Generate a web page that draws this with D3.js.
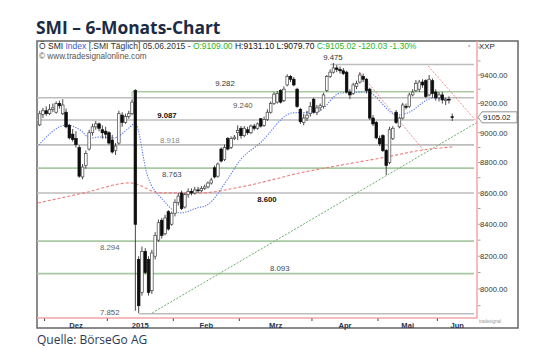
<!DOCTYPE html>
<html>
<head>
<meta charset="utf-8">
<script src="https://cdn.jsdelivr.net/npm/d3@7"></script>
<style>
html, body { margin: 0; padding: 0; background: #fff; }
svg { display: block; }
</style>
</head>
<body>
<div id="chart"></div>
<script>
// SMI daily candles 27.11.2014 - 05.06.2015
const openVals = [
  9053, 9125, 9150, 9130, 9160, 9140, 9200, 9130, 9140, 9050,
  8990, 8960, 8900, 8705, 8780, 8890, 9000, 9040, 9060, 9020,
  9010, 9000, 8950, 8880, 8930, 9120, 9070, 9110, 9130, 9290,
  8180, 7980, 8230, 8180, 7990, 8200, 8300, 8425, 8340, 8480,
  8400, 8470, 8540, 8600, 8510, 8590, 8610, 8600, 8620, 8615,
  8630, 8640, 8665, 8765, 8710, 8890, 8820, 8960, 8900, 8960,
  9000, 9030, 8980, 9020, 9000, 9045, 9030, 9095, 9050, 9090,
  9140, 9200, 9210, 9290, 9220, 9330, 9390, 9370, 9300, 9160,
  9070, 9100, 9130, 9230, 9140, 9170, 9180, 9290, 9390, 9420,
  9450, 9440, 9430, 9420, 9280, 9270, 9320, 9350, 9390, 9370,
  9300, 9100, 9070, 8960, 8980, 8880, 8800, 8960, 9140, 9040,
  9100, 9180, 9180, 9260, 9290, 9300, 9350, 9360, 9260, 9360,
  9280, 9240, 9260, 9220, 9230, 9109
];
const highVals = [
  9150, 9170, 9180, 9195, 9200, 9215, 9220, 9230, 9165, 9060,
  9025, 9010, 8915, 8790, 8880, 9020, 9060, 9080, 9070, 9050,
  9040, 9010, 8985, 8930, 9150, 9140, 9130, 9150, 9230, 9300,
  8200, 8260, 8250, 8200, 8240, 8350, 8430, 8440, 8460, 8490,
  8480, 8560, 8600, 8615, 8600, 8630, 8630, 8640, 8640, 8645,
  8655, 8675, 8700, 8780, 8800, 8900, 8920, 8970, 8975, 8985,
  9050, 9045, 9045, 9040, 9055, 9060, 9070, 9100, 9110, 9160,
  9215, 9280, 9285, 9300, 9320, 9405, 9400, 9385, 9310, 9170,
  9130, 9150, 9210, 9240, 9190, 9200, 9275, 9400, 9440, 9485,
  9470, 9460, 9450, 9430, 9300, 9345, 9360, 9420, 9410, 9380,
  9310, 9120, 9080, 8980, 8990, 8890, 9040, 9045, 9155, 9110,
  9205, 9200, 9275, 9300, 9365, 9365, 9370, 9370, 9400, 9375,
  9300, 9280, 9280, 9240, 9250, 9131.1
];
const lowVals = [
  9045, 9100, 9115, 9120, 9140, 9130, 9165, 9120, 9030, 8955,
  8940, 8900, 8700, 8690, 8760, 8880, 8980, 9020, 9010, 8960,
  8960, 8920, 8860, 8850, 8920, 9040, 9060, 9095, 9120, 7870,
  7857, 7960, 8090, 7960, 7970, 8180, 8290, 8310, 8330, 8360,
  8390, 8450, 8520, 8490, 8500, 8570, 8585, 8590, 8600, 8605,
  8620, 8630, 8655, 8695, 8700, 8800, 8810, 8880, 8890, 8950,
  8950, 8960, 8970, 8985, 8990, 9015, 9020, 9035, 9040, 9080,
  9130, 9190, 9200, 9200, 9210, 9320, 9350, 9320, 9170, 9060,
  9050, 9080, 9110, 9130, 9120, 9150, 9170, 9280, 9380, 9410,
  9420, 9410, 9400, 9270, 9230, 9260, 9300, 9340, 9350, 9270,
  9087, 9045, 8955, 8910, 8870, 8718, 8790, 8950, 9060, 9030,
  9090, 9160, 9170, 9250, 9280, 9280, 9310, 9238, 9250, 9240,
  9220, 9215, 9200, 9190, 9200, 9079.7
];
const closeVals = [
  9130, 9150, 9130, 9160, 9170, 9200, 9185, 9190, 9040, 8965,
  8955, 8920, 8710, 8770, 8860, 9000, 9040, 9060, 9030, 9000,
  8990, 8930, 8870, 8910, 9130, 9070, 9110, 9130, 9210, 8400,
  7900, 8230, 8100, 7980, 8220, 8330, 8410, 8330, 8440, 8370,
  8470, 8540, 8580, 8500, 8590, 8610, 8600, 8620, 8615, 8630,
  8640, 8665, 8685, 8705, 8790, 8810, 8900, 8890, 8960, 8970,
  9015, 8980, 9030, 9000, 9045, 9030, 9060, 9045, 9090, 9140,
  9200, 9265, 9270, 9210, 9300, 9390, 9370, 9330, 9180, 9075,
  9100, 9120, 9180, 9140, 9170, 9185, 9260, 9390, 9420, 9450,
  9440, 9430, 9410, 9280, 9260, 9330, 9340, 9400, 9370, 9290,
  9100, 9060, 8965, 8925, 8880, 8780, 9020, 9030, 9070, 9100,
  9190, 9175, 9260, 9280, 9340, 9350, 9330, 9250, 9370, 9270,
  9240, 9260, 9225, 9230, 9225.05, 9105.02
];

// month labels and the index of the first trading day of each month
const monthLabels = ["Dez", "2015", "Feb", "Mrz", "Apr", "Mai", "Jun"];
const monthStart = [2, 21, 41, 61, 83, 103, 121];

// right axis
const priceTicks = [8000, 8200, 8400, 8600, 8800, 9000, 9200, 9400];
const lastPrice = 9105.02;

// support / resistance levels and the day each line starts
const levelValues = [9475, 9282, 9240, 9087, 8918, 8763, 8600, 8294, 8093, 7852];
const levelFrom = [88, 28, 0, 0, 0, 0, 0, 0, 0, 30];

// moving averages (day index, value)
const blueMaDay = [-0.8, 8.3, 12.3, 15.3, 18.3, 22.3, 27.4, 28.9, 32.6, 37.4, 42.6, 47.7, 50.8, 56.8, 60.8, 66.8, 76.5, 84.1, 91.1, 99.2, 108.3, 111.4, 119.2, 124.4];
const blueMaVal = [8904, 9053, 9018, 8964, 8971, 8964, 9039, 9066, 8718, 8555, 8472, 8504, 8523, 8685, 8817, 8930, 9135, 9142, 9273, 9280, 9121, 9135, 9238, 9224];
const redMaDay = [-0.5, 13.5, 27.4, 36.5, 48.6, 60.8, 78.9, 105.3, 116.2, 125];
const redMaVal = [8536, 8601, 8666, 8601, 8601, 8639, 8731, 8838, 8884, 8904];

// trend lines, [day index, value]
const greenTrend = [[34.1, 7857], [132.5, 9070]];
const redTrendA = [[97.1, 9414], [116.2, 8884]];
const redTrendB = [[117.7, 9464], [132.5, 9073]];

const width = 540, height = 350;
const plot = { left: 37, right: 477, top: 41, bottom: 318 };

const svg = d3.select("#chart").append("svg")
  .attr("width", width)
  .attr("height", height)
  .style("font-family", "'Liberation Sans', Arial, sans-serif");

const x = d3.scaleLinear().domain([-0.8, 132.5]).range([plot.left, plot.right]);
const y = d3.scaleLog().domain([7827, 9644]).range([plot.bottom, plot.top]);

// title and source
svg.append("text")
  .attr("x", 36).attr("y", 34)
  .attr("font-family", "'Open Sans', sans-serif")
  .attr("font-weight", 700).attr("font-size", 17.4)
  .attr("fill", "#1c2b45")
  .text("SMI – 6-Monats-Chart");

svg.append("text")
  .attr("x", 37).attr("y", 344)
  .attr("font-family", "'Open Sans', sans-serif")
  .attr("font-size", 12).attr("fill", "#2b3a55")
  .text("Quelle: BörseGo AG");

// outer frame
svg.append("rect")
  .attr("x", 37).attr("y", 41).attr("width", 481).attr("height", 287)
  .attr("fill", "#fff").attr("stroke", "#666").attr("stroke-width", 1.5);

svg.append("defs").append("clipPath").attr("id", "plotclip")
  .append("rect")
  .attr("x", plot.left).attr("y", plot.top)
  .attr("width", plot.right - plot.left).attr("height", plot.bottom - plot.top);

const g = svg.append("g").attr("clip-path", "url(#plotclip)");

// level lines
const greenLevels = [9282, 8763, 8294, 8093];
g.selectAll(".level")
  .data(levelValues)
  .enter().append("line")
  .attr("class", "level")
  .attr("x1", (d, i) => levelFrom[i] === 0 ? plot.left : x(levelFrom[i]))
  .attr("x2", plot.right - 3)
  .attr("y1", d => y(d)).attr("y2", d => y(d))
  .attr("stroke", d => greenLevels.includes(d) ? "#a9c9a2" : "#bdbdbd")
  .attr("stroke-width", 1.6);

// small bracket at the start of the 9.282 line
g.append("line")
  .attr("x1", x(28)).attr("x2", x(28))
  .attr("y1", y(9282)).attr("y2", y(9282) + 5)
  .attr("stroke", "#a9c9a2").attr("stroke-width", 1.2);

// level labels: day index position, vertical offset, colour, weight
const labelLayout = [
  [85.9, -4, "#333", 400],
  [53.2, -6, "#333", 400],
  [58.6, 10.5, "#555", 400],
  [35.6, -1.5, "#111", 700],
  [36.5, -2, "#888", 400],
  [37.1, 8.5, "#3a4560", 400],
  [65.9, 8.5, "#111", 700],
  [18.3, 8.5, "#666", 400],
  [69.8, -3, "#3a4560", 400],
  [18.3, 1.5, "#555", 400]
];
svg.selectAll(".levlabel")
  .data(levelValues)
  .enter().append("text")
  .attr("class", "levlabel")
  .attr("x", (d, i) => x(labelLayout[i][0]))
  .attr("y", (d, i) => y(d) + labelLayout[i][1])
  .attr("font-size", 7.8)
  .attr("fill", (d, i) => labelLayout[i][2])
  .attr("font-weight", (d, i) => labelLayout[i][3])
  .text(d => d3.format(",")(d).replace(",", "."));

// moving averages
const line = d3.line().x(d => x(d[0])).y(d => y(d[1])).curve(d3.curveMonotoneX);

g.append("path")
  .datum(redMaDay.map((d, i) => [d, redMaVal[i]]))
  .attr("d", line)
  .attr("fill", "none").attr("stroke", "#f07b7b")
  .attr("stroke-width", 1.1).attr("stroke-dasharray", "3,2");

g.append("path")
  .datum(blueMaDay.map((d, i) => [d, blueMaVal[i]]))
  .attr("d", line)
  .attr("fill", "none").attr("stroke", "#5b7cf0")
  .attr("stroke-width", 1.1).attr("stroke-dasharray", "1.3,1.3");

// trend lines
const straight = d3.line().x(d => x(d[0])).y(d => y(d[1]));
g.append("path").datum(greenTrend).attr("d", straight)
  .attr("fill", "none").attr("stroke", "#6aae6a")
  .attr("stroke-width", 1).attr("stroke-dasharray", "2,1.5");
[redTrendA, redTrendB].forEach(t => {
  g.append("path").datum(t).attr("d", straight)
    .attr("fill", "none").attr("stroke", "#f08c8c")
    .attr("stroke-width", 1).attr("stroke-dasharray", "2,1.5");
});

// candles
const days = d3.range(closeVals.length);
g.selectAll(".wick")
  .data(days)
  .enter().append("line")
  .attr("class", "wick")
  .attr("x1", i => x(i)).attr("x2", i => x(i))
  .attr("y1", i => y(highVals[i])).attr("y2", i => y(lowVals[i]))
  .attr("stroke", "#333").attr("stroke-width", 0.9);

g.selectAll(".body")
  .data(days)
  .enter().append("rect")
  .attr("class", "body")
  .attr("x", i => x(i) - 1.3)
  .attr("width", 2.6)
  .attr("y", i => Math.min(y(openVals[i]), y(closeVals[i])))
  .attr("height", i => Math.max(0.8, Math.abs(y(openVals[i]) - y(closeVals[i]))))
  .attr("fill", i => closeVals[i] < openVals[i] ? "#0d0d0d" : "#fff")
  .attr("stroke", i => closeVals[i] < openVals[i] ? "#0d0d0d" : "#444")
  .attr("stroke-width", 0.7);

// pink axis lines
svg.append("line")
  .attr("x1", plot.right).attr("x2", plot.right)
  .attr("y1", plot.top).attr("y2", plot.bottom)
  .attr("stroke", "#f4a4a4").attr("stroke-width", 1.5);
svg.append("line")
  .attr("x1", plot.left).attr("x2", plot.right)
  .attr("y1", plot.bottom).attr("y2", plot.bottom)
  .attr("stroke", "#f4a4a4").attr("stroke-width", 1.5);

// right axis
const minor = d3.range(7900, 9700, 100);
svg.selectAll(".minor")
  .data(minor)
  .enter().append("line")
  .attr("x1", plot.right + 1).attr("x2", plot.right + 3.5)
  .attr("y1", d => y(d)).attr("y2", d => y(d))
  .attr("stroke", "#888").attr("stroke-width", 0.8);

svg.selectAll(".ptick")
  .data(priceTicks)
  .enter().append("text")
  .attr("x", 480).attr("y", d => y(d) + 2.8)
  .attr("font-size", 7.6).attr("fill", "#333")
  .text(d => d.toFixed(2));

// last price box
const yl = y(lastPrice);
svg.append("path")
  .attr("d", `M478,${yl} L482,${yl - 5.5} L517,${yl - 5.5} L517,${yl + 5.5} L482,${yl + 5.5} Z`)
  .attr("fill", "#fff").attr("stroke", "#777").attr("stroke-width", 0.8);
svg.append("text")
  .attr("x", 483).attr("y", yl + 2.8)
  .attr("font-size", 7.6).attr("fill", "#222")
  .text(lastPrice.toFixed(2));

// month ticks and labels
svg.selectAll(".mtick")
  .data(monthStart)
  .enter().append("line")
  .attr("x1", d => x(d - 0.5)).attr("x2", d => x(d - 0.5))
  .attr("y1", plot.bottom + 0.5).attr("y2", plot.bottom + 3)
  .attr("stroke", "#444").attr("stroke-width", 1);

const monthEnd = monthStart.slice(1).concat([132.5 + 0.5]);
svg.selectAll(".mlabel")
  .data(monthLabels)
  .enter().append("text")
  .attr("x", (d, i) => x((monthStart[i] - 0.5 + monthEnd[i] - 0.5) / 2))
  .attr("y", 327.5)
  .attr("text-anchor", "middle")
  .attr("font-size", 7.6).attr("font-weight", 700).attr("fill", "#2a3550")
  .text(d => d);

svg.append("text")
  .attr("x", 479).attr("y", 323)
  .attr("font-size", 4.5).attr("fill", "#999")
  .text("tradesignal");

// header lines inside the frame
const head = svg.append("text")
  .attr("x", 39).attr("y", 49)
  .attr("font-size", 8.5).attr("fill", "#333");
head.append("tspan").text("Ö ");
head.append("tspan").attr("fill", "#222").text("SMI ");
head.append("tspan").attr("fill", "#3b5bd0").text("Index ");
head.append("tspan").text("[.SMI  Täglich] 05.06.2015 - ");
head.append("tspan").attr("fill", "#1fb51f").text("O:9109.00 ");
head.append("tspan").attr("fill", "#111").text("H:9131.10 L:9079.70 ");
head.append("tspan").attr("fill", "#1fb51f").text("C:9105.02 -120.03 -1.30%");

svg.append("text")
  .attr("x", 39).attr("y", 59)
  .attr("font-size", 8.2).attr("fill", "#555")
  .text("© www.tradesignalonline.com");

svg.append("text")
  .attr("x", 468).attr("y", 49)
  .attr("font-size", 6).attr("fill", "#777")
  .text("*");
svg.append("text")
  .attr("x", 479).attr("y", 49)
  .attr("font-size", 7.8).attr("fill", "#222")
  .text("XXP");
</script>
</body>
</html>
